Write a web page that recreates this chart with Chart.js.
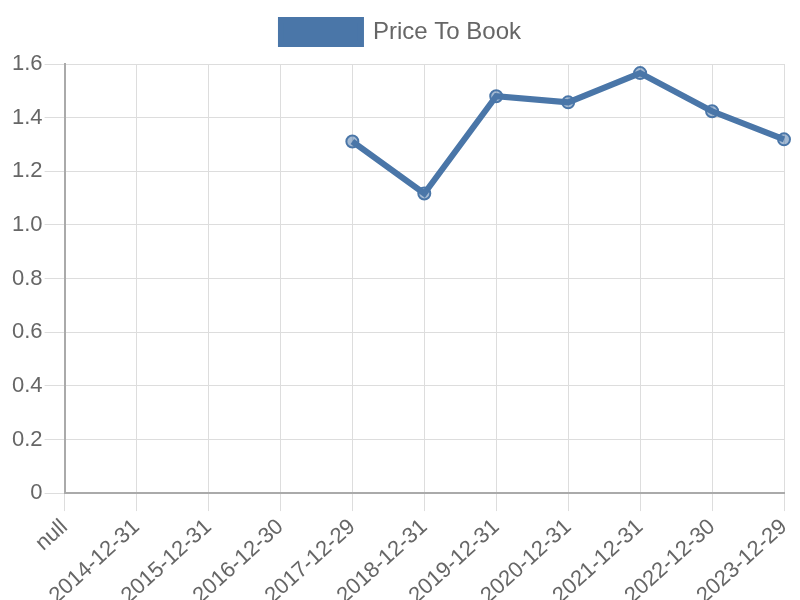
<!DOCTYPE html>
<html>
<head>
<meta charset="utf-8">
<script src="https://cdn.jsdelivr.net/npm/chart.js@4.4.1/dist/chart.umd.min.js"></script>
<style>
  html, body { margin: 0; padding: 0; background: #fff; }
  #wrap { width: 800px; height: 600px; }
</style>
</head>
<body>
<div id="wrap"><canvas id="chart"></canvas></div>
<script>
// x labels as shown on the chart (first one really is "null")
const dates = ['null', '2014-12-31', '2015-12-31', '2016-12-30', '2017-12-29', '2018-12-31',
  '2019-12-31', '2020-12-31', '2021-12-31', '2022-12-30', '2023-12-29'];
const priceToBook = [null, null, null, null, 1.311, 1.117, 1.480, 1.457, 1.566, 1.424, 1.319];
const yTicks = [0, 0.2, 0.4, 0.6, 0.8, 1.0, 1.2, 1.4, 1.6];

const lineColor = '#4a76a8';

Chart.defaults.font.family = '"Liberation Sans", Arial, sans-serif';
Chart.defaults.color = '#666';

// a bit more room under the legend
const legendGap = {
  id: 'legendGap',
  beforeInit(chart) {
    const fit = chart.legend.fit;
    chart.legend.fit = function () {
      fit.call(this);
      this.height += 10;
    };
  }
};

new Chart(document.getElementById('chart'), {
  type: 'line',
  data: {
    labels: dates,
    datasets: [{
      label: 'Price To Book',
      data: priceToBook,
      borderColor: lineColor,
      backgroundColor: lineColor,
      borderWidth: 6,
      pointRadius: 6,
      pointBorderWidth: 2,
      pointBackgroundColor: 'rgba(74, 118, 168, 0.5)',
      pointBorderColor: lineColor,
      tension: 0,
      fill: false
    }]
  },
  options: {
    responsive: true,
    maintainAspectRatio: false,
    animation: false,
    layout: { padding: { left: 10, top: 10, right: 8, bottom: -12 } },
    plugins: {
      legend: {
        labels: { font: { size: 24 }, boxWidth: 80, boxHeight: 24 }
      },
      tooltip: { enabled: false }
    },
    scales: {
      y: {
        min: 0,
        max: 1.6,
        afterBuildTicks: axis => { axis.ticks = yTicks.map(v => ({ value: v })); },
        ticks: { font: { size: 22 }, padding: 2 },
        grid: { color: '#ddd', tickLength: 20, lineWidth: 1 },
        border: { color: '#aaa', width: 2 }
      },
      x: {
        afterFit: scale => { scale.paddingRight = 16; },
        ticks: { font: { size: 22 }, maxRotation: 42, minRotation: 42, autoSkip: false },
        grid: { color: '#ddd', tickLength: 18 },
        border: { color: '#aaa', width: 2 }
      }
    }
  },
  plugins: [legendGap]
});
</script>
</body>
</html>
